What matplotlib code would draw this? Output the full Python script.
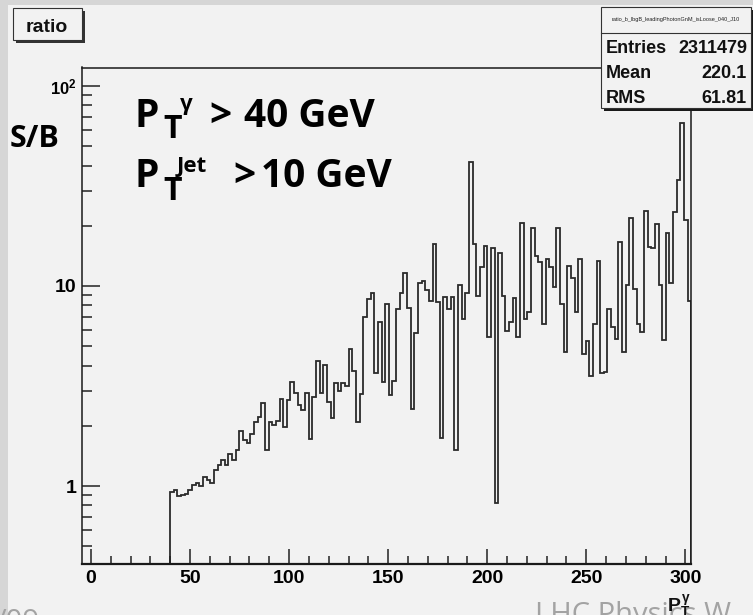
import numpy as np
import matplotlib
matplotlib.use("Agg")
import matplotlib.pyplot as plt
from matplotlib.patches import Rectangle
from matplotlib.ticker import MultipleLocator, LogLocator, NullFormatter

# S/B ratio vs photon pT, one entry per bin from pt_lo to pt_hi
pt_lo, pt_hi = 40.0, 303.0
sb_ratio = [
    0.93, 0.95, 0.89, 0.90, 0.91, 0.95, 1.015, 1.03, 1.0, 1.11,
    1.07, 1.04, 1.2, 1.27, 1.35, 1.27, 1.44, 1.35, 1.51, 1.88,
    1.70, 1.65, 1.81, 2.08, 2.21, 2.59, 1.52, 2.09, 2.02, 2.12,
    2.71, 1.98, 2.69, 3.32, 2.91, 2.54, 2.40, 2.91, 1.72, 2.78,
    4.23, 2.93, 4.04, 2.62, 2.18, 3.29, 2.99, 3.27, 3.17, 4.82,
    3.76, 2.09, 2.87, 6.97, 8.58, 9.27, 3.66, 6.6, 3.3, 8.13,
    2.85, 3.36, 7.65, 9.2, 11.6, 7.8, 2.42, 5.8, 10.3, 10.6,
    9.6, 8.4, 16.2, 8.35, 1.74, 8.84, 7.65, 8.84, 1.51, 10.1,
    6.84, 9.27, 41.5, 16.2, 8.95, 12.5, 15.9, 5.58, 15.5, 0.82,
    14.7, 8.9, 5.96, 6.63, 8.74, 5.58, 20.7, 6.84, 7.38, 19.6,
    14.2, 13.2, 6.46, 13.7, 12.5, 9.85, 19.6, 8.13, 4.69, 12.6,
    11.0, 7.38, 13.6, 4.55, 5.33, 3.56, 6.46, 13.4,
    3.69, 3.72, 7.67, 6.22, 5.41, 16.5, 4.69, 10.1, 21.9, 9.66,
    6.46, 5.87, 23.7, 15.7, 15.5, 20.4, 10.1, 5.37, 18.3, 10.4,
    23.4, 33.9, 65.6, 21.4, 8.41,
]
x_ticks = [0, 50, 100, 150, 200, 250, 300]
y_ticks = [1, 10, 100]
y_labels = ["1", "10", r"$10^{2}$"]

stats_name = "ratio_b_lbgB_leadingPhotonGnM_isLoose_040_J10"
stats_rows = [("Entries", "2311479"), ("Mean", "220.1"), ("RMS", "61.81")]

plt.rcParams["mathtext.fontset"] = "custom"
plt.rcParams["mathtext.rm"] = "Liberation Sans:bold"
plt.rcParams["mathtext.it"] = "Liberation Sans:bold"
plt.rcParams["mathtext.bf"] = "Liberation Sans:bold"

W, H = 753, 615


def fx(x):
    return x / W


def fy(y):
    return 1 - y / H


fig = plt.figure(figsize=(W / 100, H / 100), dpi=100)
fig.patch.set_facecolor("#d6d6d6")
fig.add_artist(Rectangle((fx(8), 0), 1 - fx(8), fy(5), transform=fig.transFigure,
                         facecolor="#f2f2f2", edgecolor="none", zorder=0))

ax = fig.add_axes([fx(82), fy(564.3), (691.3 - 82) / W, (564.3 - 67.5) / H])
ax.set_facecolor("#f2f2f2")
ax.set_yscale("log")
ax.set_xlim(-4.5, 303)
ax.set_ylim(0.406, 123.7)

edges = np.linspace(pt_lo, pt_hi, len(sb_ratio) + 1)
ax.stairs(sb_ratio, edges, baseline=ax.get_ylim()[0], color="#2b2b2b", lw=1.3)

ax.set_xticks(x_ticks)
ax.xaxis.set_minor_locator(MultipleLocator(10))
ax.set_yticks(y_ticks, labels=y_labels)
ax.yaxis.set_minor_locator(LogLocator(base=10, subs=np.arange(2, 10)))
ax.yaxis.set_minor_formatter(NullFormatter())

ax.tick_params(axis="both", which="both", direction="in", color="#222222", width=1.1,
               top=False, right=False)
ax.tick_params(axis="x", which="major", length=10.8, pad=4)
ax.tick_params(axis="x", which="minor", length=5.5)
ax.tick_params(axis="y", which="major", length=13, pad=4)
ax.tick_params(axis="y", which="minor", length=7.2)
for lab in ax.get_xticklabels() + ax.get_yticklabels():
    lab.set_fontfamily("Liberation Sans")
    lab.set_fontweight("bold")
    lab.set_fontsize(14)
ax.get_yticklabels()[2].set_fontsize(12)

for name, spine in ax.spines.items():
    spine.set_color("#1a1a1a")
    spine.set_linewidth(1.6 if name == "bottom" else 1.1)

# x axis title at the right end
fig.text(fx(691), fy(612), r"$P_T^{\gamma}$", ha="right", va="baseline", fontsize=14,
         color="#111111", zorder=5)

# histogram name box
fig.add_artist(Rectangle((fx(16), fy(43)), (82 - 13) / W, (40 - 8) / H,
                         transform=fig.transFigure, facecolor="#333333", edgecolor="none"))
fig.add_artist(Rectangle((fx(13), fy(40)), (82 - 13) / W, (40 - 8) / H,
                         transform=fig.transFigure, facecolor="#f2f2f2",
                         edgecolor="#333333", lw=0.8))
fig.text(fx(47), fy(32), "ratio", ha="center", va="baseline", fontsize=14,
         family="Liberation Sans", weight="bold", color="#111111")

# statistics box
fig.add_artist(Rectangle((fx(604), fy(111)), (751 - 601) / W, (108 - 7) / H,
                         transform=fig.transFigure, facecolor="#1a1a1a", edgecolor="none"))
fig.add_artist(Rectangle((fx(601), fy(108)), (751 - 601) / W, (108 - 7) / H,
                         transform=fig.transFigure, facecolor="#f2f2f2",
                         edgecolor="#333333", lw=0.8))
fig.add_artist(plt.Line2D([fx(601), fx(751)], [fy(33), fy(33)], transform=fig.transFigure,
                          color="#333333", lw=0.8))
fig.text(fx(676), fy(20), stats_name, ha="center", va="center", fontsize=4,
         family="Liberation Sans", color="#222222")
for i, (key, val) in enumerate(stats_rows):
    yb = 53 + 25 * i
    fig.text(fx(606), fy(yb), key, ha="left", va="baseline", fontsize=13,
             family="Liberation Sans", weight="bold", color="#111111")
    fig.text(fx(747), fy(yb), val, ha="right", va="baseline", fontsize=13,
             family="Liberation Sans", weight="bold", color="#111111")

# slide annotations
big = dict(family="Open Sans", weight="bold", color="black", va="baseline")
fig.text(fx(10), fy(147), "S/B", fontsize=22, **big)

fig.text(fx(135), fy(127), "P", fontsize=28, **big)
fig.text(fx(163), fy(138), "T", fontsize=23, **big)
fig.text(fx(180), fy(110), "\u03b3", fontsize=16, **big)
fig.text(fx(209), fy(127), ">", fontsize=28, **big)
fig.text(fx(244), fy(127), "40 GeV", fontsize=28, **big)

fig.text(fx(135), fy(187), "P", fontsize=28, **big)
fig.text(fx(163), fy(200), "T", fontsize=23, **big)
fig.text(fx(177), fy(172), "Jet", fontsize=16, **big)
fig.text(fx(233), fy(187), ">", fontsize=28, **big)
fig.text(fx(261), fy(187), "10 GeV", fontsize=28, **big)

# footer text cut by the bottom edge
fig.text(fx(535), fy(623), "LHC Physics W", fontsize=21, family="Open Sans",
         color="#a3a3a3", va="baseline", zorder=1)
fig.text(fx(-4), fy(630), "/09", fontsize=21, family="Open Sans",
         color="#a3a3a3", va="baseline")

fig.savefig("out.png", dpi=100, facecolor=fig.get_facecolor())
